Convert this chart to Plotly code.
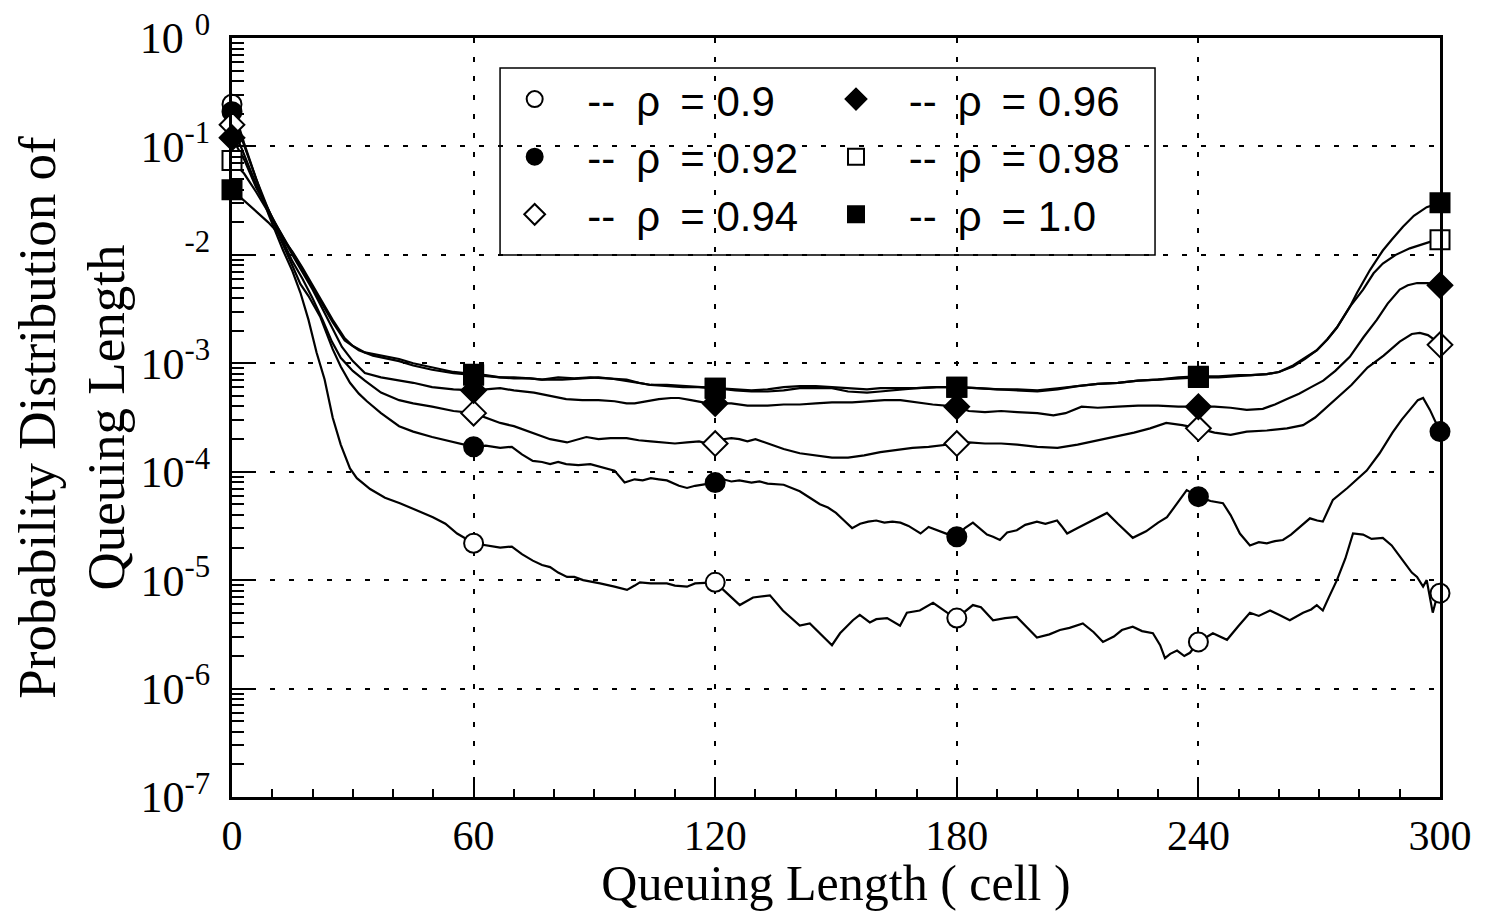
import numpy as np
import plotly.graph_objects as go

# ---------------- data (y stored as log10 of probability) -------------
x_rho_090 = [0, 3, 6, 9, 12.7, 15, 17, 19, 21, 23, 25, 27, 29.3, 31, 34.3, 38, 41.7, 46, 49.9, 53, 55.9, 60,
             63, 66.6, 69.5, 72, 74.7, 77, 79, 81, 83.2, 85, 87.2, 89, 91.4, 95, 98.1, 100, 101.3, 104, 108,
             110, 113, 115, 118, 120, 122.9, 126.1, 129.4, 131, 133.6, 136.8, 139, 141, 143.5, 146, 149, 151,
             154.2, 155.9, 158.4, 160, 162.7, 165.9, 167.6, 170.8, 174.1, 177.6, 180, 184, 186, 189, 192,
             194.9, 197, 199.9, 203, 205.6, 208, 211.3, 214, 216.3, 219, 221, 223.7, 226, 228.7, 230.5,
             231.7, 233, 234.7, 236.5, 237.9, 240, 243.6, 247.1, 250, 252.8, 255, 257.8, 260, 262.7, 266,
             268, 269.4, 270.9, 272.5, 274.4, 276.5, 278.4, 280.9, 283, 285.8, 288, 290.8, 293, 294.3, 295.8,
             296.7, 298.2, 299.2, 300]
lg_rho_090 = [-0.61, -0.97, -1.30, -1.62, -1.96, -2.15, -2.35, -2.60, -2.90, -3.15, -3.50, -3.75, -3.97, -4.06,
              -4.16, -4.24, -4.29, -4.36, -4.42, -4.48, -4.57, -4.66,
              -4.68, -4.70, -4.69, -4.76, -4.82, -4.86, -4.88, -4.93, -4.97, -4.97, -5.00, -5.01, -5.03, -5.06,
              -5.09, -5.05, -5.02, -5.03, -5.03,
              -5.05, -5.06, -5.03, -5.02, -5.02, -5.12, -5.23, -5.16, -5.15, -5.14, -5.28, -5.35, -5.42, -5.40,
              -5.49, -5.60, -5.49,
              -5.37, -5.32, -5.39, -5.36, -5.35, -5.42, -5.30, -5.28, -5.21, -5.30, -5.35, -5.23, -5.25, -5.37,
              -5.35,
              -5.34, -5.42, -5.53, -5.50, -5.46, -5.44, -5.40, -5.48, -5.57, -5.52, -5.46, -5.43, -5.47, -5.49,
              -5.60,
              -5.72, -5.68, -5.65, -5.70, -5.67, -5.57, -5.49, -5.55, -5.42, -5.30, -5.33, -5.28, -5.32, -5.37,
              -5.30,
              -5.27, -5.23, -5.28, -5.15, -5.00, -4.80, -4.57, -4.58, -4.62, -4.61, -4.68, -4.82, -4.93, -4.97,
              -5.06,
              -5.00, -5.30, -5.16, -5.12]

x_rho_092 = [0, 3, 6, 9, 12, 15, 17, 19, 21.9, 25, 27, 29.3, 31.5, 33.5, 37, 41.5, 45, 49.7, 53, 56, 60,
             63, 66.6, 69.5, 72, 74.7, 77, 79, 81, 83, 86, 89, 92, 95, 97.5, 100, 102, 104, 106, 108, 111, 113,
             115, 117, 120, 122, 124, 126, 129, 131, 133, 137, 139, 141, 143.5, 146, 148, 150, 152, 154, 156,
             158, 160, 162, 164, 166, 168, 171, 173, 175, 178, 180, 182, 184, 186, 187.5, 189, 190.7, 192.5,
             194.9, 197, 199.9, 202, 204.9, 206, 207.4, 210, 213.8, 215.5, 217.3, 220, 223.7, 227, 230, 232.2,
             235, 237.1, 240, 243, 246.1, 248, 250.3, 252.8, 255, 257, 259, 261, 263, 265.2, 267.7, 269.5,
             270.9, 273.4, 277, 281.8, 285, 288.2, 290.5, 292.5, 294.5, 295.8, 297.5, 300]
lg_rho_092 = [-0.68, -1.00, -1.30, -1.58, -1.85, -2.10, -2.27, -2.38, -2.57, -2.87, -3.03, -3.18, -3.28, -3.35,
              -3.46, -3.58, -3.63, -3.68, -3.71, -3.74, -3.77,
              -3.76, -3.78, -3.77, -3.84, -3.90, -3.91, -3.93, -3.91, -3.93, -3.94, -3.93, -3.96, -3.99, -4.10,
              -4.07, -4.08, -4.06, -4.07, -4.08, -4.13, -4.15,
              -4.13, -4.12, -4.10, -4.07, -4.09, -4.08, -4.10, -4.09, -4.11, -4.12, -4.15, -4.18, -4.24, -4.30,
              -4.33, -4.38, -4.45, -4.52, -4.48,
              -4.46, -4.45, -4.47, -4.46, -4.47, -4.50, -4.57, -4.51, -4.54, -4.58, -4.60, -4.52, -4.47, -4.53,
              -4.58, -4.60, -4.63, -4.56,
              -4.54, -4.49, -4.46, -4.48, -4.45, -4.50, -4.57, -4.52, -4.45, -4.42, -4.38, -4.48, -4.61, -4.55,
              -4.47, -4.42,
              -4.28, -4.17, -4.23, -4.27, -4.29, -4.40, -4.57, -4.68, -4.65, -4.66, -4.64, -4.63, -4.58, -4.51,
              -4.43, -4.45,
              -4.46, -4.26, -4.15, -3.99, -3.83, -3.64, -3.52, -3.43, -3.34, -3.32, -3.43, -3.63]

x_rho_094 = [0, 3, 6, 9, 12, 15, 17.5, 20, 22.5, 24.8, 27, 30, 33, 37, 41.5, 45, 49.7, 55, 60, 63, 66.6, 70,
             74.7, 79, 83.2, 86, 88, 91, 94, 98, 101, 104, 107, 110, 113, 116, 118, 120, 122, 124, 126, 128, 130,
             133, 137, 141, 145, 149, 153, 157, 161, 165, 169, 173, 177, 180, 183, 187, 191, 195, 200, 205, 210,
             215, 220, 224, 228, 232, 236, 240, 244, 248, 252, 257, 262, 266, 269, 272, 275, 278, 282, 286, 290,
             293, 295, 297, 298.5, 300]
lg_rho_094 = [-0.80, -1.07, -1.35, -1.58, -1.82, -2.06, -2.22, -2.40, -2.60, -2.80, -2.95, -3.07, -3.16, -3.27,
              -3.34, -3.37, -3.40, -3.44, -3.46, -3.50, -3.55, -3.58,
              -3.64, -3.70, -3.73, -3.70, -3.68, -3.70, -3.69, -3.69, -3.71, -3.72, -3.73, -3.74, -3.73, -3.72,
              -3.74, -3.74, -3.70, -3.69, -3.70, -3.72, -3.70,
              -3.74, -3.79, -3.83, -3.85, -3.87, -3.87, -3.85, -3.82, -3.80, -3.78, -3.77, -3.75, -3.74, -3.73,
              -3.74, -3.74, -3.75, -3.77, -3.78, -3.75,
              -3.71, -3.67, -3.64, -3.60, -3.55, -3.57, -3.60, -3.64, -3.66, -3.63, -3.62, -3.60, -3.57, -3.50,
              -3.40, -3.30, -3.20, -3.04, -2.93, -2.80,
              -2.73, -2.72, -2.74, -2.78, -2.83]

x_rho_096 = [0, 3, 6, 9, 12, 15, 17.5, 20, 22.5, 25, 27.3, 30, 33, 37, 41.5, 45, 49.7, 55, 60, 63, 66.6, 70,
             75, 79, 83, 87, 91, 95, 98, 100, 103, 106, 109, 111, 114, 117, 120, 124, 128, 133, 137, 141, 145,
             149, 154, 158, 162, 166, 170, 174, 180, 183, 187, 191, 195, 200, 204, 207, 211, 215, 220, 225, 230,
             235, 240, 244, 248, 252, 256, 259, 262, 265, 268, 271, 274, 277.6, 281, 284.3, 287, 290, 292,
             294.3, 297, 300]
lg_rho_096 = [-0.92, -1.12, -1.38, -1.59, -1.80, -2.00, -2.16, -2.32, -2.50, -2.68, -2.85, -2.98, -3.09, -3.13,
              -3.16, -3.18, -3.22, -3.24, -3.25, -3.24, -3.23, -3.25,
              -3.27, -3.30, -3.33, -3.34, -3.34, -3.35, -3.37, -3.37, -3.35, -3.33, -3.32, -3.32, -3.34, -3.36,
              -3.37, -3.37, -3.39, -3.39, -3.38, -3.38, -3.37,
              -3.36, -3.36, -3.35, -3.34, -3.34, -3.36, -3.38, -3.40, -3.44, -3.45, -3.44, -3.45, -3.46, -3.48,
              -3.46, -3.40, -3.41, -3.40, -3.39, -3.39,
              -3.40, -3.40, -3.40, -3.41, -3.43, -3.42, -3.38, -3.33, -3.28, -3.22, -3.16, -3.07, -2.94, -2.76,
              -2.60, -2.45, -2.32, -2.28,
              -2.26, -2.26, -2.28]

x_rho_098 = [0, 3, 6, 9, 12, 15, 17.5, 20, 22.5, 25, 28, 31.5, 35, 41.5, 45, 49.7, 55, 60, 63, 66.6, 70, 74,
             77, 82, 87, 91, 94, 98, 101, 104, 108, 112, 116, 120, 125, 129, 133, 137, 141, 145, 149, 153, 157.7,
             161, 165.9, 170, 175, 180, 185, 190, 195, 200, 205, 210, 215, 220, 225, 230, 235, 240, 245, 250,
             253, 257, 260, 263.5, 266.5, 269.4, 272, 274.4, 277.6, 280.9, 283.5, 285.8, 289, 292.5, 295,
             297.5, 300]
lg_rho_098 = [-1.13, -1.25, -1.42, -1.60, -1.79, -1.98, -2.13, -2.30, -2.46, -2.62, -2.79, -2.88, -2.93, -2.98,
              -3.02, -3.06, -3.09, -3.11, -3.12, -3.13, -3.14, -3.14,
              -3.15, -3.15, -3.14, -3.13, -3.14, -3.16, -3.18, -3.20, -3.21, -3.22, -3.22, -3.23, -3.25, -3.26,
              -3.26, -3.25, -3.23, -3.23, -3.23, -3.26, -3.27,
              -3.26, -3.24, -3.23, -3.22, -3.22, -3.23, -3.24, -3.25, -3.26, -3.24, -3.21, -3.19, -3.18, -3.16,
              -3.15, -3.14, -3.13, -3.13, -3.12,
              -3.11, -3.10, -3.08, -3.03, -2.96, -2.88, -2.78, -2.67, -2.48, -2.32, -2.17, -2.08, -2.00, -1.94,
              -1.91, -1.88, -1.86]

x_rho_100 = [0, 3, 6, 9, 12, 15, 17.5, 20, 22.5, 25, 28, 30, 33, 37, 41.5, 45, 49.7, 55, 60, 63, 66.6, 70, 74,
             77, 81, 85, 89, 94, 98, 101, 104, 108, 112, 116, 120, 125, 129, 133, 137, 141, 145, 149, 153, 157.7,
             161, 165.9, 170, 175, 180, 185, 190, 195, 200, 205, 210, 215, 220, 225, 230, 235, 240, 245, 250,
             253, 257, 260, 263.5, 266.5, 269.4, 272, 274.4, 277.6, 279.4, 282.6, 285.8, 288, 290.8, 293.5,
             296.7, 300]
lg_rho_100 = [-1.40, -1.50, -1.60, -1.70, -1.82, -1.97, -2.12, -2.28, -2.44, -2.60, -2.77, -2.84, -2.90, -2.93,
              -2.96, -3.00, -3.04, -3.08, -3.10, -3.11, -3.13, -3.13, -3.14,
              -3.15, -3.13, -3.14, -3.13, -3.14, -3.15, -3.18, -3.20, -3.20, -3.21, -3.22, -3.23, -3.24, -3.25,
              -3.24, -3.22, -3.21, -3.21, -3.22, -3.23, -3.24,
              -3.23, -3.23, -3.23, -3.22, -3.22, -3.23, -3.24, -3.24, -3.25, -3.23, -3.21, -3.19, -3.18, -3.16,
              -3.15, -3.13, -3.12, -3.12, -3.11,
              -3.11, -3.10, -3.08, -3.02, -2.95, -2.88, -2.78, -2.67, -2.48, -2.35, -2.14, -1.96, -1.86, -1.74,
              -1.64, -1.56, -1.52]

rho_values = ["0.9", "0.92", "0.94", "0.96", "0.98", "1.0"]
marker_x = [0, 60, 120, 180, 240, 300]
x_tick_vals = [0, 60, 120, 180, 240, 300]
x_tick_text = ["0", "60", "120", "180", "240", "300"]
y_tick_vals = [1e0, 1e-1, 1e-2, 1e-3, 1e-4, 1e-5, 1e-6, 1e-7]
y_tick_text = ["10 <sup>0</sup>", "10<sup>-1</sup>", "<sup>-2</sup>", "10<sup>-3</sup>",
               "10<sup>-4</sup>", "10<sup>-5</sup>", "10<sup>-6</sup>", "10<sup>-7</sup>"]

# legend label text: "-- ρ = value" with spacing like the original
NB, EN, TH = "\u00a0", "\u2002", "\u2009"
legend_labels = [EN + NB + "--" + EN + "\u03c1" + NB + TH + "=" + NB + v for v in rho_values]

# ---------------- styling -------------
series = [
    (x_rho_090, lg_rho_090, legend_labels[0], "circle", "white", "legend"),
    (x_rho_092, lg_rho_092, legend_labels[1], "circle", "black", "legend"),
    (x_rho_094, lg_rho_094, legend_labels[2], "diamond", "white", "legend"),
    (x_rho_096, lg_rho_096, legend_labels[3], "diamond", "black", "legend2"),
    (x_rho_098, lg_rho_098, legend_labels[4], "square", "white", "legend2"),
    (x_rho_100, lg_rho_100, legend_labels[5], "square", "black", "legend2"),
]

fig = go.Figure()
for xs, lg, name, sym, fill, _ in series:
    ys = 10 ** np.array(lg)
    fig.add_trace(go.Scatter(x=xs, y=ys, mode="lines", line=dict(color="black", width=2.2),
                             showlegend=False, hoverinfo="skip"))
for xs, lg, name, sym, fill, _ in series:
    ys = 10 ** np.array(lg)
    idx = [i for i, v in enumerate(xs) if v in marker_x]
    fig.add_trace(go.Scatter(x=[xs[i] for i in idx], y=[ys[i] for i in idx], mode="markers",
                             marker=dict(symbol=sym, size=19, color=fill, line=dict(color="black", width=2)),
                             showlegend=False, cliponaxis=False))
for xs, lg, name, sym, fill, leg in series:
    fig.add_trace(go.Scatter(x=[None], y=[None], mode="markers", name=name, legend=leg,
                             marker=dict(symbol=sym, size=16, color=fill, line=dict(color="black", width=2))))

serif = "Liberation Serif"
sans = "Liberation Sans"
grid_style = dict(showgrid=True, gridcolor="black", gridwidth=2, griddash="5px,14px")

minor_y = [k * 10.0 ** e for e in range(-7, 0) for k in range(2, 10)]

fig.update_layout(
    width=1472, height=903,
    margin=dict(l=224, r=40, t=30, b=114),
    paper_bgcolor="white", plot_bgcolor="white",
    font=dict(family=serif, color="black"),
    xaxis=dict(range=[0, 300], tickmode="array", tickvals=x_tick_vals, ticktext=x_tick_text,
               automargin=False,
               ticks="inside", ticklen=20, tickwidth=2, tickcolor="black",
               minor=dict(dtick=10, tick0=0, ticks="inside", ticklen=8, tickwidth=1.5, tickcolor="black",
                          showgrid=False),
               showline=True, linewidth=3, linecolor="black", mirror=True,
               tickfont=dict(family=serif, size=42, color="black"),
               title=dict(text="Queuing Length ( cell )", font=dict(family=serif, size=50, color="black"),
                          standoff=12),
               zeroline=False, **grid_style),
    yaxis=dict(type="log", range=[-7, 0], tickmode="array", tickvals=y_tick_vals, ticktext=y_tick_text,
               automargin=False,
               ticks="inside", ticklen=24, tickwidth=2, tickcolor="black", ticklabelstandoff=10,
               ticklabeloverflow="allow",
               minor=dict(tickmode="array", tickvals=minor_y, ticks="inside", ticklen=12, tickwidth=1.5,
                          tickcolor="black", showgrid=False),
               showline=True, linewidth=3, linecolor="black", mirror=True,
               tickfont=dict(family=serif, size=44, color="black"),
               title=dict(text="Probability Distribution of<br>Queuing Length",
                          font=dict(family=serif, size=53, color="black"), standoff=4),
               zeroline=False, **grid_style),
    legend=dict(x=0.234, y=0.964, xanchor="left", yanchor="top", orientation="v",
                bgcolor="rgba(0,0,0,0)", borderwidth=0,
                font=dict(family=sans, size=42, color="black"), itemclick=False),
    legend2=dict(x=0.5, y=0.964, xanchor="left", yanchor="top", orientation="v",
                 bgcolor="rgba(0,0,0,0)", borderwidth=0,
                 font=dict(family=sans, size=42, color="black"), itemclick=False),
    shapes=[dict(type="rect", xref="paper", yref="paper", x0=0.2219, x1=0.7641, y0=0.7141, y1=0.9605,
                 line=dict(color="black", width=1.5), fillcolor="rgba(0,0,0,0)", layer="above")],
)

fig.write_html("out.html")
